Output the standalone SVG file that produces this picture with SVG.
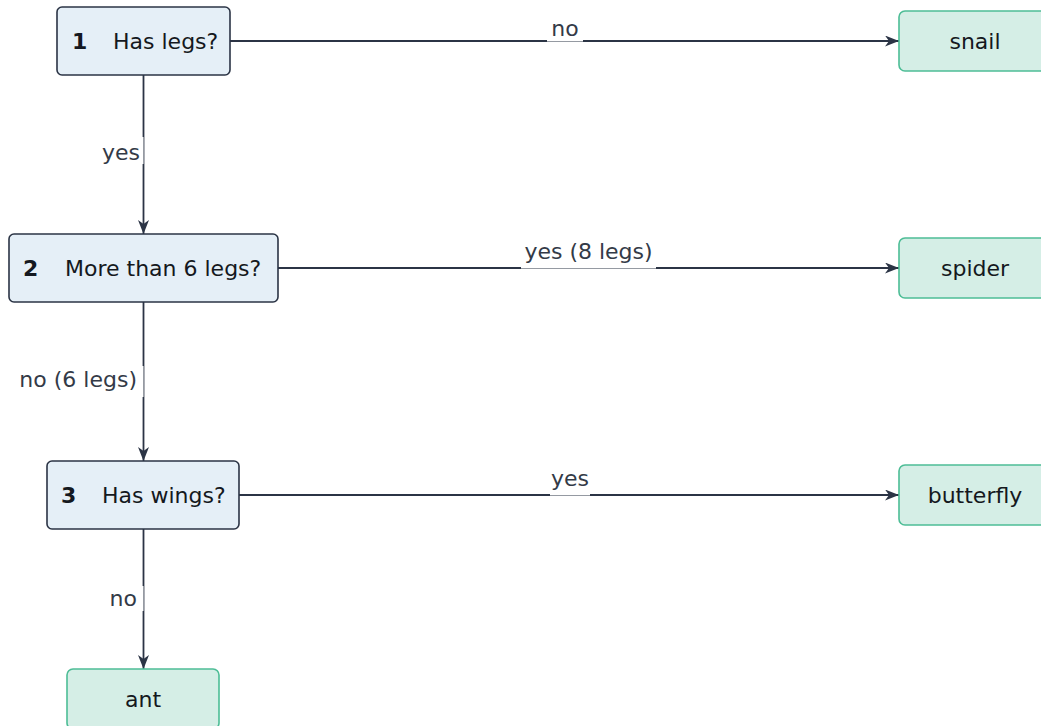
<svg xmlns="http://www.w3.org/2000/svg" width="1041" height="726" viewBox="0 0 1041 726">
  <style>
    .decision rect { fill: #e5eff7; stroke: #2b3445; stroke-width: 1.6; }
    .leaf rect { fill: #d5eee6; stroke: #4dbd96; stroke-width: 1.6; }
    .txt { font-family: "DejaVu Sans", "Liberation Sans", sans-serif; font-size: 22px; fill: #141820; }
    .num { font-weight: bold; }
    .mid { text-anchor: middle; }
    .edge { fill: none; stroke: #2b3445; stroke-width: 1.8; }
    .lbl { font-family: "DejaVu Sans", "Liberation Sans", sans-serif; font-size: 22px; fill: #333a47; }
    .lblbg { fill: #ffffff; }
  </style>
  <defs>
    <marker id="arrow" markerUnits="userSpaceOnUse" markerWidth="14" markerHeight="11" viewBox="0 0 14 11" refX="14" refY="5.5" orient="auto">
      <path d="M0,0 L14,5.5 L0,11 L4,5.5 z" fill="#2b3445"/>
    </marker>
  </defs>
  <rect width="1041" height="726" fill="#ffffff"/>

  <!-- connectors -->
  <g id="connectors">
    <path class="edge" d="M230,41 L899,41" marker-end="url(#arrow)"/>
    <path class="edge" d="M143.5,75 L143.5,234" marker-end="url(#arrow)"/>
    <path class="edge" d="M278,268 L899,268" marker-end="url(#arrow)"/>
    <path class="edge" d="M143.5,302 L143.5,461" marker-end="url(#arrow)"/>
    <path class="edge" d="M239,495 L899,495" marker-end="url(#arrow)"/>
    <path class="edge" d="M143.5,529 L143.5,669" marker-end="url(#arrow)"/>

    <!-- edge labels -->
    <rect class="lblbg" x="547" y="17" width="36" height="24.5"/>
    <text class="lbl mid" x="565" y="36">no</text>

    <rect class="lblbg" x="521" y="239" width="135" height="29.5"/>
    <text class="lbl mid" x="588.5" y="259">yes (8 legs)</text>

    <rect class="lblbg" x="550" y="465" width="40" height="30.5"/>
    <text class="lbl mid" x="570" y="486">yes</text>

    <rect class="lblbg" x="102" y="137" width="41.5" height="27"/>
    <text class="lbl" x="140" y="160" text-anchor="end">yes</text>

    <rect class="lblbg" x="16" y="366" width="127.5" height="31"/>
    <text class="lbl" x="137" y="387" text-anchor="end">no (6 legs)</text>

    <rect class="lblbg" x="109" y="586" width="34.5" height="25"/>
    <text class="lbl" x="137" y="606" text-anchor="end">no</text>
  </g>

  <!-- decision nodes -->
  <g id="q1" class="decision">
    <rect x="57" y="7" width="173" height="68" rx="5"/>
    <text class="txt num" x="72" y="49">1</text>
    <text class="txt" x="113" y="49">Has legs?</text>
  </g>
  <g id="q2" class="decision">
    <rect x="9" y="234" width="269" height="68" rx="5"/>
    <text class="txt num" x="23" y="276">2</text>
    <text class="txt" x="65" y="276">More than 6 legs?</text>
  </g>
  <g id="q3" class="decision">
    <rect x="47" y="461" width="192" height="68" rx="5"/>
    <text class="txt num" x="61" y="503">3</text>
    <text class="txt" x="102" y="503">Has wings?</text>
  </g>

  <!-- leaf nodes -->
  <g id="snail" class="leaf">
    <rect x="899" y="11" width="152" height="60" rx="6"/>
    <text class="txt mid" x="975" y="49">snail</text>
  </g>
  <g id="spider" class="leaf">
    <rect x="899" y="238" width="152" height="60" rx="6"/>
    <text class="txt mid" x="975" y="276">spider</text>
  </g>
  <g id="butterfly" class="leaf">
    <rect x="899" y="465" width="152" height="60" rx="6"/>
    <text class="txt mid" x="975" y="503">butterfly</text>
  </g>
  <g id="ant" class="leaf">
    <rect x="67" y="669" width="152" height="60" rx="6"/>
    <text class="txt mid" x="143" y="707">ant</text>
  </g>
</svg>
